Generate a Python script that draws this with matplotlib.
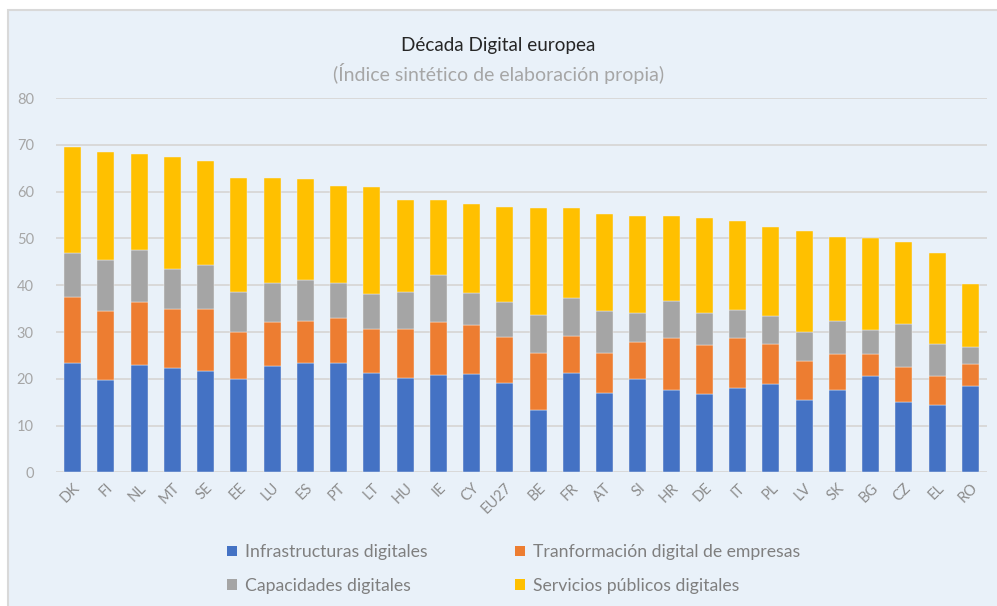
import matplotlib
matplotlib.use("Agg")
import matplotlib.pyplot as plt
from matplotlib.patches import Patch, Rectangle
import numpy as np

plt.rcParams['font.family'] = ['Lato', 'DejaVu Sans']

countries = ["DK", "FI", "NL", "MT", "SE", "EE", "LU", "ES", "PT", "LT", "HU", "IE", "CY", "EU27",
             "BE", "FR", "AT", "SI", "HR", "DE", "IT", "PL", "LV", "SK", "BG", "CZ", "EL", "RO"]

infraestructuras = [23.3, 19.7, 22.9, 22.4, 21.7, 20.0, 22.7, 23.4, 23.4, 21.2, 20.2, 20.8, 21.0, 19.2,
                    13.3, 21.2, 17.0, 19.9, 17.5, 16.8, 18.1, 18.9, 15.4, 17.5, 20.6, 15.0, 14.4, 18.5]
transformacion = [14.2, 14.7, 13.5, 12.5, 13.2, 10.0, 9.4, 8.9, 9.5, 9.5, 10.5, 11.3, 10.5, 9.7,
                  12.3, 8.0, 8.6, 8.0, 11.2, 10.4, 10.6, 8.6, 8.3, 7.9, 4.8, 7.5, 6.2, 4.6]
capacidades = [9.3, 11.1, 11.1, 8.6, 9.4, 8.6, 8.4, 8.8, 7.6, 7.4, 7.9, 10.0, 6.9, 7.5,
               8.0, 8.1, 8.8, 6.2, 7.9, 6.9, 6.0, 5.9, 6.3, 6.9, 5.0, 9.2, 6.9, 3.8]
servicios = [22.7, 22.9, 20.5, 23.9, 22.3, 24.3, 22.4, 21.6, 20.7, 22.9, 19.6, 16.1, 19.0, 20.3,
             22.9, 19.2, 20.9, 20.8, 18.3, 20.2, 19.0, 19.0, 21.7, 18.0, 19.6, 17.6, 19.5, 13.4]

series_names = ["Infrastructuras digitales", "Tranformación digital de empresas",
                "Capacidades digitales", "Servicios públicos digitales"]
series_values = [infraestructuras, transformacion, capacidades, servicios]
colors = ["#4472C4", "#ED7D31", "#A5A5A5", "#FFC000"]

bg = "#E9F1F9"
W, H = 997, 606
fig = plt.figure(figsize=(W / 100, H / 100), dpi=100)
fig.patch.set_facecolor("white")

# chart panel with light border, drawn behind everything
panel = Rectangle((8 / W, -0.01), 1.02, (H - 10) / H + 0.01, transform=fig.transFigure,
                  facecolor=bg, edgecolor="#D9D9D9", linewidth=1.5, zorder=-10)
fig.patches.append(panel)

ax = fig.add_axes([56 / W, (H - 472.3) / H, (987 - 56) / W, (472.3 - 98.2) / H])
ax.set_facecolor("none")

x = np.arange(len(countries))
bottom = np.zeros(len(countries))
for name, vals, col in zip(series_names, series_values, colors):
    vals = np.array(vals)
    ax.bar(x, vals, width=0.51, bottom=bottom, color=col, label=name, zorder=3,
           edgecolor="#F2F2F2", linewidth=0.3)
    bottom += vals

ax.set_xlim(-0.5, len(countries) - 0.5)
ax.set_ylim(0, 80)
ax.set_yticks(np.arange(0, 81, 10))
ax.yaxis.grid(True, color="#D9D9D9", linewidth=1.4, zorder=0)
ax.set_axisbelow(True)
for s in ax.spines.values():
    s.set_visible(False)
ax.tick_params(axis="y", length=0, pad=16, labelsize=10.5, labelcolor="#A6A6A6")
ax.tick_params(axis="x", length=0, pad=6, labelsize=10.5, labelcolor="#8C8C8C")
ax.set_xticks(x)
ax.set_xticklabels(countries, rotation=45, ha="right", rotation_mode="anchor")

fig.text(0.5, 1 - 46 / H, "Década Digital europea", ha="center", va="center",
         fontsize=13.6, color="#262626")
fig.text(0.5, 1 - 73 / H, "(Índice sintético de elaboración propia)", ha="center", va="center",
         fontsize=14, color="#A6A6A6")

handles = [Patch(facecolor=c, edgecolor="none") for c in colors]
order = [0, 2, 1, 3]
leg = fig.legend([handles[i] for i in order], [series_names[i] for i in order],
                 ncol=2, loc="center left", bbox_to_anchor=(211 / W, 1 - 569 / H),
                 frameon=False, fontsize=12.7, labelcolor="#7F7F7F",
                 handlelength=0.55, handleheight=0.55, handletextpad=0.45,
                 columnspacing=5.0, labelspacing=1.0)

fig.savefig("out.png", dpi=100, facecolor=fig.get_facecolor())
